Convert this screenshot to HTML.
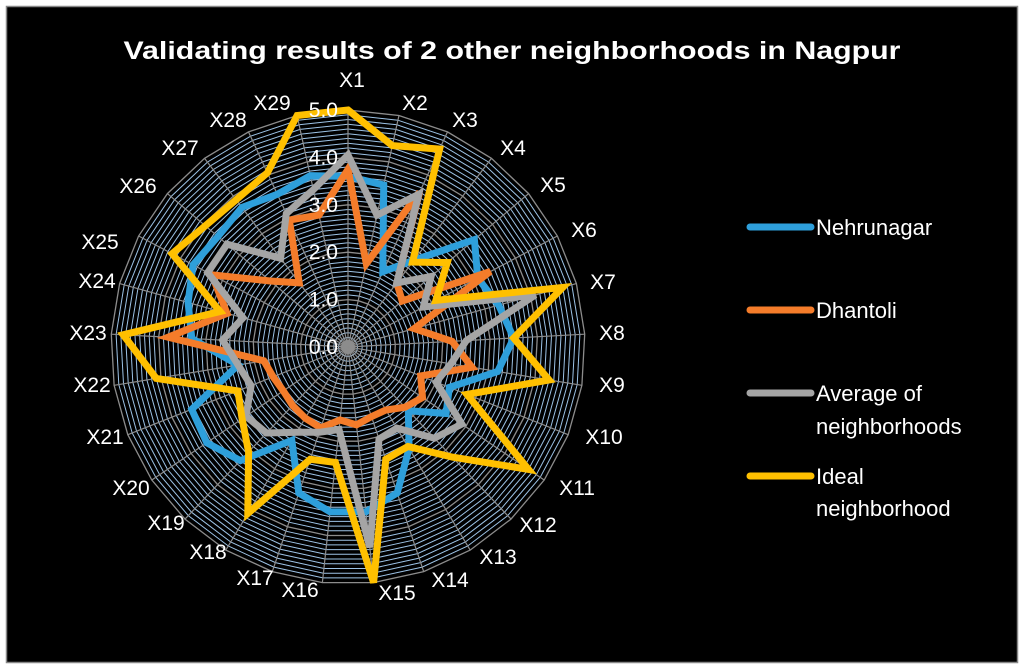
<!DOCTYPE html>
<html><head><meta charset="utf-8"><style>
html,body{margin:0;padding:0;background:#fff;width:1024px;height:669px;overflow:hidden}
svg{display:block;font-family:"Liberation Sans",sans-serif}
</style></head><body>
<svg id="chart" width="1024" height="669" viewBox="0 0 1024 669">
<rect x="6.5" y="6.5" width="1011" height="656" fill="#000" stroke="#888" stroke-width="1.5"/>
<text x="512" y="59" fill="#fff" font-size="25" font-weight="bold" text-anchor="middle" textLength="777" lengthAdjust="spacingAndGlyphs">Validating results of 2 other neighborhoods in Nagpur</text>
<g id="grid"></g><g id="series"></g><g id="labels"></g>
<g>
<g><line x1="750" y1="227" x2="811" y2="227" stroke="#2e9fdb" stroke-width="7" stroke-linecap="round"/><text x="816" y="235" fill="#fff" font-size="22">Nehrunagar</text></g>
<g><line x1="750" y1="310" x2="811" y2="310" stroke="#f47c2a" stroke-width="7" stroke-linecap="round"/><text x="816" y="318" fill="#fff" font-size="22">Dhantoli</text></g>
<g><line x1="750" y1="393" x2="811" y2="393" stroke="#a5a5a5" stroke-width="7" stroke-linecap="round"/><text x="816" y="401" fill="#fff" font-size="22">Average of</text><text x="816" y="434" fill="#fff" font-size="22">neighborhoods</text></g>
<g><line x1="750" y1="476" x2="811" y2="476" stroke="#ffc000" stroke-width="7" stroke-linecap="round"/><text x="816" y="484" fill="#fff" font-size="22">Ideal</text><text x="816" y="516" fill="#fff" font-size="22">neighborhood</text></g>
</g>
</svg>
<script>
const categories = ["X1","X2","X3","X4","X5","X6","X7","X8","X9","X10","X11","X12","X13","X14","X15","X16","X17","X18","X19","X20","X21","X22","X23","X24","X25","X26","X27","X28","X29"];
const nehrunagar = [3.6,3.5,1.75,2.3,3.5,3.1,3.3,3.5,3.2,2.3,2.5,1.85,2.5,3.25,3.5,3.5,3.25,2.3,3.3,3.6,3.55,2.35,3.3,3.5,3.7,3.6,3.7,3.55,3.7];
const dhantoli = [3.75,1.8,3.6,1.7,1.5,3.4,1.45,2.2,2.65,1.65,1.9,1.75,1.55,1.55,1.65,1.55,1.8,1.75,1.7,1.65,1.7,1.8,3.8,2.65,3.25,2.15,1.7,2.95,2.85];
const average = [4.05,2.85,3.55,1.7,2.3,1.8,4.1,2.5,2.2,2.0,2.9,2.65,2.0,2.05,4.25,1.75,1.9,2.1,2.5,2.6,2.2,2.35,2.65,2.3,3.35,3.35,2.35,3.1,3.4];
const ideal = [5.0,4.35,4.6,2.25,2.75,2.1,4.7,3.5,4.3,2.7,4.6,3.2,2.45,2.5,5.0,2.45,2.5,4.1,3.05,2.7,2.5,4.1,4.75,2.8,4.2,3.95,3.9,4.05,5.0];
const tickLabels = ["0.0","1.0","2.0","3.0","4.0","5.0"];
const maxVal = 5;

// layout only: label centre positions (x,y) as seen in the reference
const labelLayout = [[352,80],[415,103],[465,120],[513,148],[553,185],[584,230],[603,282],[612,333],[612,385],[604,437],[577,488],[538,525],[498,557],[450,580],[397,593],[300,590],[255,578],[208,552],[166,523],[131,488],[105,437],[92,385],[88,333],[97,281],[100,242],[138,186],[180,148],[228,120],[272,103]];

const NS="http://www.w3.org/2000/svg";
const cx=348, cy=347, R=237;
const N=categories.length;
function ang(i){return i*2*Math.PI/N;}
function px(i,v){return cx+Math.sin(ang(i))*R*v/maxVal;}
function py(i,v){return cy-Math.cos(ang(i))*R*v/maxVal;}
function mk(tag,attrs,parent){const e=document.createElementNS(NS,tag);for(const k in attrs)e.setAttribute(k,attrs[k]);parent.appendChild(e);return e;}

const grid=document.getElementById('grid');
for(let k=1;k<=50;k++){
  const v=k*maxVal/50;
  let pts=[];for(let i=0;i<N;i++)pts.push(px(i,v).toFixed(1)+","+py(i,v).toFixed(1));
  const major=(k%10===0);
  const p=mk('polygon',{points:pts.join(' '),fill:'none',stroke:major?'#8c8c8c':'#9dc3e6','stroke-width':major?1.3:1},grid);
  
  
}
mk('circle',{cx:cx,cy:cy,r:7,fill:'#8c8c8c'},grid);
for(let i=0;i<N;i++){
  const l=mk('line',{x1:cx,y1:cy,x2:px(i,maxVal),y2:py(i,maxVal),stroke:'#8c8c8c','stroke-width':1.2},grid);
  
  
}
const series=document.getElementById('series');
const defs=[["nehrunagar",nehrunagar,"#2e9fdb"],["dhantoli",dhantoli,"#f47c2a"],["average",average,"#a5a5a5"],["ideal",ideal,"#ffc000"]];
defs.forEach(([name,vals,col])=>{
  let pts=vals.map((v,i)=>px(i,v).toFixed(1)+","+py(i,v).toFixed(1));
  const p=mk('polygon',{points:pts.join(' '),fill:'none',stroke:col,'stroke-width':7,'stroke-linejoin':'miter','stroke-miterlimit':4},series);
  
  
});
const labels=document.getElementById('labels');
tickLabels.forEach((t,k)=>{
  const v=k*maxVal/(tickLabels.length-1);
  const e=mk('text',{x:cx-10,y:cy-R*v/maxVal+7,fill:'#fff','font-size':21,'text-anchor':'end'},labels);
  e.textContent=t;
  
  
});
categories.forEach((c,i)=>{
  const pos=labelLayout[i];
  const e=mk('text',{x:pos[0],y:pos[1]+7,fill:'#fff','font-size':21,'text-anchor':'middle'},labels);
  e.textContent=c;
  
  
});
</script>
</body></html>
